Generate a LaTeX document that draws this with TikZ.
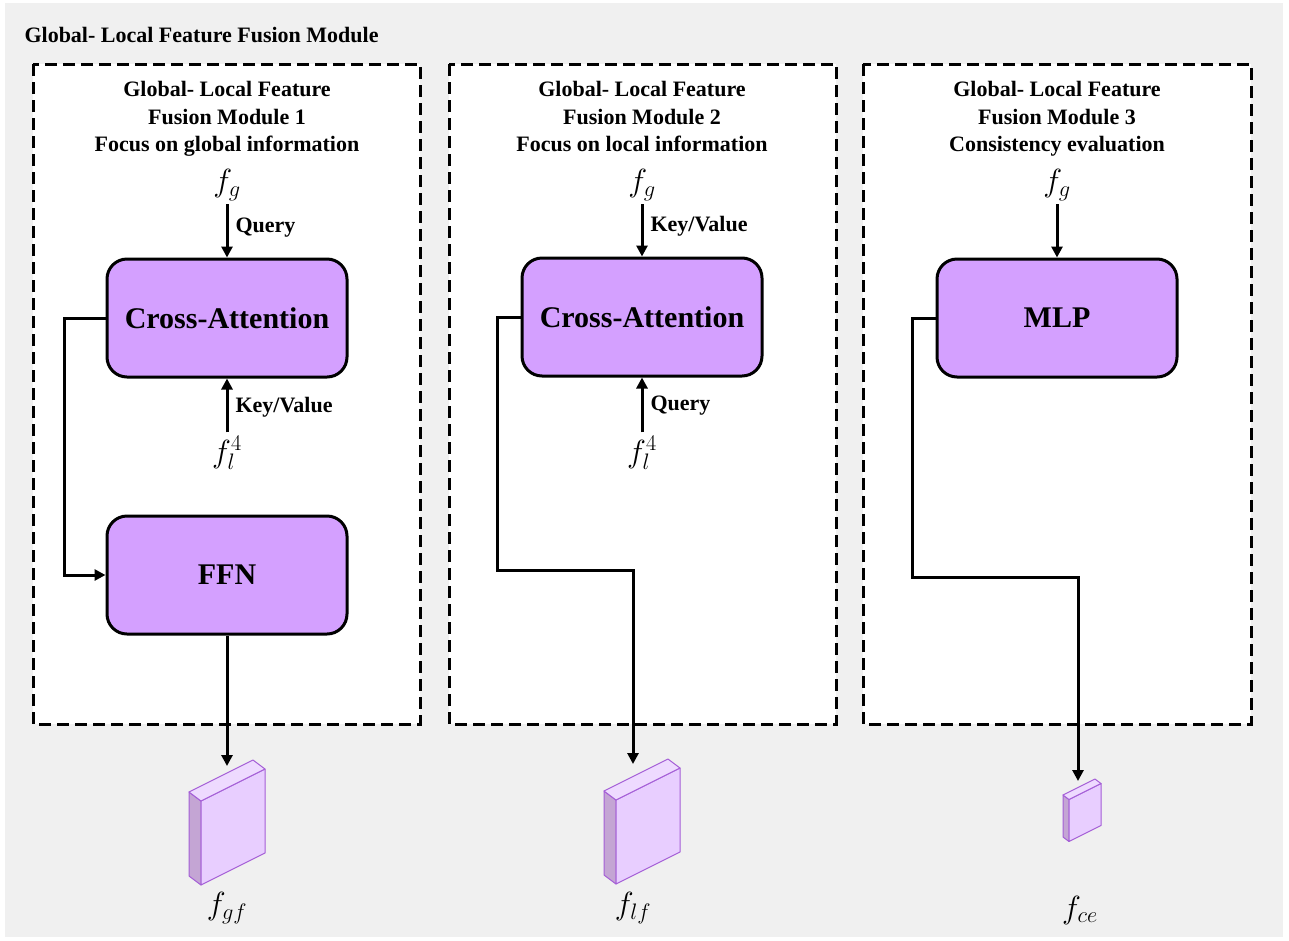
\RequirePackage{fix-cm}
\documentclass[tikz,border=0pt]{standalone}
\usepackage{fontspec}
\setmainfont{Liberation Serif}
\usetikzlibrary{positioning,arrows.meta}
\definecolor{bggray}{RGB}{240,240,240}
\definecolor{blockfill}{RGB}{212,160,255}
\definecolor{cubefront}{RGB}{232,206,255}
\definecolor{cubeside}{RGB}{196,165,212}
\definecolor{cubetop}{RGB}{238,218,255}
\definecolor{cubeedge}{RGB}{165,95,215}
\tikzset{
  block/.style={draw=black, line width=3pt, rounded corners=20pt, fill=blockfill,
    minimum width=240pt, minimum height=118pt, font=\fontsize{30}{36}\selectfont\bfseries},
  frame/.style={draw=black, fill=white, dash pattern=on 12pt off 6pt, line width=3pt},
  title/.style={anchor=north, align=center, font=\fontsize{22}{27.5}\selectfont\bfseries},
  lbl/.style={anchor=west, font=\fontsize{22}{27}\selectfont\bfseries},
  feat/.style={font=\fontsize{32}{38}\selectfont},
  conn/.style={line width=3pt, -{Triangle[length=11pt,width=11pt]}},
  cubeline/.style={draw=cubeedge, line width=1pt, line join=round}
}
% feature map: left back top corner, scale
\newcommand{\featmap}[3]{%
  \begin{scope}[shift={(#1,#2)}, scale=#3]
    \filldraw[cubeline, fill=cubeside] (0,0) -- (12,9) -- (12,93) -- (0,84) -- cycle;
    \filldraw[cubeline, fill=cubefront] (12,9) -- (76,-23) -- (76,61) -- (12,93) -- cycle;
    \filldraw[cubeline, fill=cubetop] (0,0) -- (64,-32) -- (76,-23) -- (12,9) -- cycle;
  \end{scope}}
\begin{document}
\begin{tikzpicture}[x=1pt,y=-1pt]
\useasboundingbox (0,0) rectangle (1289,940);
\fill[white] (0,0) rectangle (1289,940);
\fill[bggray] (5,3) rectangle (1283,937);
\node[anchor=west, font=\fontsize{22}{27}\selectfont\bfseries] (head) at (21,35) {Global- Local Feature Fusion Module};

% module frames
\draw[frame] (33,64) rectangle (420,724);
\draw[frame] (449,64) rectangle (836,724);
\draw[frame] (863,64) rectangle (1251,724);

% module 1
\node[title] (t1) at (227,78) {Global- Local Feature\\Fusion Module 1\\Focus on global information};
\node[feat] (fg1) at (227,185) {$f_g$};
\node[block] (ca1) at (227,318) {Cross-Attention};
\node[feat] (fl1) at (227,453) {$f_l^4$};
\node[block] (ffn) at (227,575) {FFN};
\node[lbl] (q1) at (232,228) {Query};
\node[lbl] (kv1) at (232,407) {Key/Value};
\featmap{189}{792}{1}
\coordinate (gf) at (227,766);
\node[feat] (gflbl) at (227,908) {$f_{gf}$};
\draw[conn] (fg1) -- (ca1);
\draw[conn] (fl1) -- (ca1);
\draw[conn] (ca1.west) -| ++(-41,257) -- (ffn.west);
\draw[conn] (ffn) -- (gf);

% module 2
\node[title] (t2) at (642,78) {Global- Local Feature\\Fusion Module 2\\Focus on local information};
\node[feat] (fg2) at (642,185) {$f_g$};
\node[block] (ca2) at (642,317) {Cross-Attention};
\node[feat] (fl2) at (642,453) {$f_l^4$};
\node[lbl] (kv2) at (647,226) {Key/Value};
\node[lbl] (q2) at (647,406) {Query};
\featmap{604}{791}{1}
\coordinate (lf) at (633,764);
\node[feat] (lflbl) at (633,908) {$f_{lf}$};
\draw[conn] (fg2) -- (ca2);
\draw[conn] (fl2) -- (ca2);
\draw[conn] (ca2.west) -| ++(-23,253) -| (lf);

% module 3
\node[title] (t3) at (1057,78) {Global- Local Feature\\Fusion Module 3\\Consistency evaluation};
\node[feat] (fg3) at (1057,185) {$f_g$};
\node[block] (mlp) at (1057,318) {MLP};
\featmap{1063}{795}{0.5}
\coordinate (ce) at (1078,781);
\node[feat] (celbl) at (1080,910) {$f_{ce}$};
\draw[conn] (fg3) -- (mlp);
\draw[conn] (mlp.west) -| ++(-23,259) -| (ce);
\end{tikzpicture}
\end{document}
